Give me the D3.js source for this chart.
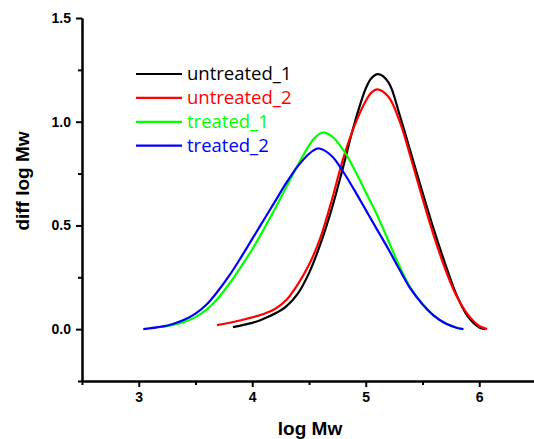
<!DOCTYPE html>
<html>
<head>
<meta charset="utf-8">
<script src="https://cdn.jsdelivr.net/npm/d3@7"></script>
<style>
    body { margin: 0; background: #fff; }
    .axis text { font-family: "Liberation Sans", Arial, sans-serif; font-weight: bold; font-size: 14px; fill: #000; }
    .axis path, .axis line { stroke: #000; stroke-width: 2px; }
    .axis-label { font-family: "Liberation Sans", Arial, sans-serif; font-weight: bold; font-size: 19px; }
    .legend text { font-family: "Open Sans", sans-serif; font-size: 18.5px; }
</style>
</head>
<body>
<div id="chart"></div>
<script>
// series names + colours (legend order)
const seriesNames = ["untreated_1", "untreated_2", "treated_1", "treated_2"]
const seriesColors = ["#000000", "#ff0000", "#00ff00", "#0000ff"]

// [log Mw, diff log Mw]
const untreated1 = [
    [3.83, 0.01], [4.0, 0.03], [4.1, 0.05], [4.2, 0.075], [4.3, 0.11], [4.4, 0.17],
    [4.5, 0.27], [4.6, 0.41], [4.7, 0.58], [4.8, 0.78], [4.9, 0.99], [5.0, 1.16],
    [5.05, 1.21], [5.11, 1.229], [5.2, 1.19], [5.3, 1.03], [5.4, 0.845], [5.5, 0.66],
    [5.6, 0.48], [5.7, 0.315], [5.8, 0.165], [5.9, 0.06], [6.0, 0.008], [6.05, 0.0]
]
const untreated2 = [
    [3.69, 0.019], [3.9, 0.043], [4.1, 0.073], [4.2, 0.097], [4.3, 0.14], [4.4, 0.215],
    [4.5, 0.31], [4.6, 0.44], [4.7, 0.62], [4.8, 0.82], [4.9, 0.98], [5.0, 1.1],
    [5.05, 1.14], [5.1, 1.156], [5.2, 1.12], [5.3, 1.0], [5.4, 0.82], [5.5, 0.63],
    [5.6, 0.45], [5.7, 0.29], [5.8, 0.16], [5.9, 0.07], [6.0, 0.015], [6.07, 0.0]
]
const treated1 = [
    [3.2, 0.01], [3.3, 0.02], [3.4, 0.035], [3.5, 0.058], [3.6, 0.095], [3.7, 0.15],
    [3.8, 0.22], [3.9, 0.3], [4.0, 0.385], [4.1, 0.48], [4.2, 0.58], [4.3, 0.685],
    [4.4, 0.79], [4.5, 0.885], [4.55, 0.922], [4.62, 0.948], [4.7, 0.93], [4.8, 0.865],
    [4.9, 0.77], [5.0, 0.66], [5.1, 0.55], [5.2, 0.425], [5.3, 0.3], [5.4, 0.195],
    [5.5, 0.12], [5.6, 0.065], [5.7, 0.028], [5.8, 0.007], [5.86, 0.0]
]
const treated2 = [
    [3.04, 0.0], [3.2, 0.012], [3.3, 0.025], [3.4, 0.045], [3.5, 0.075], [3.6, 0.12],
    [3.7, 0.185], [3.8, 0.26], [3.9, 0.345], [4.0, 0.435], [4.1, 0.525], [4.2, 0.615],
    [4.3, 0.705], [4.4, 0.785], [4.48, 0.835], [4.54, 0.862], [4.59, 0.871], [4.7, 0.835],
    [4.8, 0.76], [4.9, 0.67], [5.0, 0.575], [5.1, 0.48], [5.2, 0.385], [5.3, 0.285],
    [5.4, 0.19], [5.5, 0.12], [5.6, 0.065], [5.7, 0.028], [5.8, 0.007], [5.86, 0.0]
]
const seriesData = [untreated1, untreated2, treated1, treated2]

const xMajor = [3, 4, 5, 6]
const xMinor = [2.5, 3.5, 4.5, 5.5, 6.5]
const yMajor = [0, 0.5, 1.0, 1.5]
const yMinor = [-0.25, 0.25, 0.75, 1.25]

const width = 534
const height = 439
const margin = { left: 82, top: 18, bottom: 58 }

const xScale = d3.scaleLinear().domain([2.5, 6.5]).range([margin.left, 536])
const yScale = d3.scaleLinear().domain([-0.25, 1.5]).range([height - margin.bottom, margin.top])

const svg = d3.select("#chart").append("svg")
    .attr("width", width)
    .attr("height", height)

// minor ticks first, then major axis on top
svg.append("g")
    .attr("class", "axis")
    .attr("transform", `translate(0, ${yScale(-0.25)})`)
    .call(d3.axisBottom(xScale).tickValues(xMinor).tickSize(4).tickSizeOuter(0).tickFormat(""))
svg.append("g")
    .attr("class", "axis")
    .attr("transform", `translate(0, ${yScale(-0.25)})`)
    .call(d3.axisBottom(xScale).tickValues(xMajor).tickSize(6).tickSizeOuter(0).tickPadding(5).tickFormat(d3.format("d")))

svg.append("g")
    .attr("class", "axis")
    .attr("transform", `translate(${margin.left}, 0)`)
    .call(d3.axisLeft(yScale).tickValues(yMinor).tickSize(4).tickSizeOuter(0).tickFormat(""))
svg.append("g")
    .attr("class", "axis")
    .attr("transform", `translate(${margin.left}, 0)`)
    .call(d3.axisLeft(yScale).tickValues(yMajor).tickSize(6).tickSizeOuter(0).tickPadding(5).tickFormat(d3.format(".1f")))

// axis titles
svg.append("text")
    .attr("class", "axis-label")
    .attr("text-anchor", "middle")
    .attr("x", 310)
    .attr("y", 435)
    .text("log Mw")
svg.append("text")
    .attr("class", "axis-label")
    .attr("text-anchor", "middle")
    .attr("transform", "translate(29, 181) rotate(-90)")
    .text("diff log Mw")

const line = d3.line()
    .x(d => xScale(d[0]))
    .y(d => yScale(d[1]))
    .curve(d3.curveCatmullRom.alpha(0.5))

svg.append("g").selectAll("path")
    .data(seriesData)
    .join("path")
    .attr("d", line)
    .attr("fill", "none")
    .attr("stroke", (d, i) => seriesColors[i])
    .attr("stroke-width", 2.2)

// legend
const legend = svg.append("g").attr("class", "legend")
const rowH = 23.9
seriesNames.forEach((name, i) => {
    const y = 74 + i * rowH
    legend.append("line")
        .attr("x1", 136).attr("x2", 182)
        .attr("y1", y).attr("y2", y)
        .attr("stroke", seriesColors[i])
        .attr("stroke-width", 2.2)
    legend.append("text")
        .attr("x", 187)
        .attr("y", y + 6)
        .attr("fill", seriesColors[i])
        .text(name)
})
</script>
</body>
</html>
